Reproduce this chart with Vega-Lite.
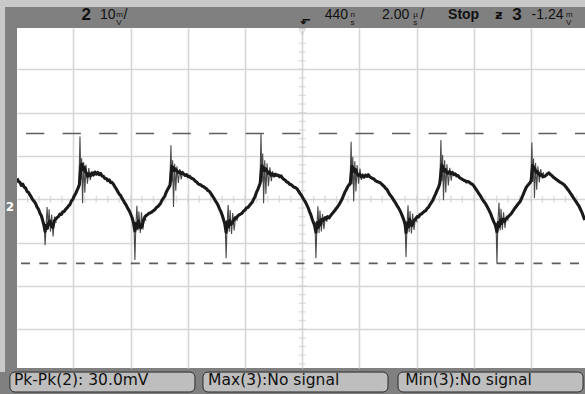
{
  "$schema": "https://vega.github.io/schema/vega-lite/v6.json",
  "width": 568,
  "height": 340,
  "autosize": "none",
  "padding": {"left": 17, "top": 28, "right": 0, "bottom": 26},
  "background": "#808080",
  "config": {"view": {"fill": "#ffffff", "stroke": null}},
  "datasets": {
    "trace": [
      {"t":-9.97,"v":4.8},{"t":-9.92,"v":4.1},{"t":-9.87,"v":3.9},{"t":-9.82,"v":3.2},{"t":-9.77,"v":3.5},{"t":-9.72,"v":2.8},{"t":-9.67,"v":2.6},{"t":-9.62,"v":1.8},{"t":-9.57,"v":1.6},{"t":-9.52,"v":1.0},{"t":-9.47,"v":0.5},{"t":-9.42,"v":-0.1},{"t":-9.37,"v":-0.5},{"t":-9.32,"v":-1.0},{"t":-9.27,"v":-1.8},{"t":-9.22,"v":-2.3},{"t":-9.17,"v":-3.2},{"t":-9.12,"v":-3.8},{"t":-9.07,"v":-5.0},{"t":-9.03,"v":-6.0},{"t":-8.99,"v":-7.4},
      {"t":-8.95,"v":-6.0},{"t":-8.91,"v":-6.7},{"t":-8.87,"v":-5.5},{"t":-8.82,"v":-5.0},{"t":-8.77,"v":-6.1},{"t":-8.72,"v":-6.5},{"t":-8.67,"v":-5.0},{"t":-8.62,"v":-4.6},{"t":-8.57,"v":-4.2},{"t":-8.52,"v":-4.0},{"t":-8.47,"v":-3.4},{"t":-8.42,"v":-3.5},{"t":-8.37,"v":-2.9},{"t":-8.32,"v":-2.8},{"t":-8.27,"v":-2.3},{"t":-8.22,"v":-2.0},{"t":-8.17,"v":-1.5},{"t":-8.12,"v":-1.2},{"t":-8.07,"v":-0.4},{"t":-8.02,"v":0.0},{"t":-7.97,"v":0.8},{"t":-7.92,"v":1.3},{"t":-7.87,"v":2.1},{"t":-7.83,"v":2.7},{"t":-7.79,"v":3.4},{"t":-7.74,"v":7.9},{"t":-7.70,"v":8.1},{"t":-7.66,"v":6.8},{"t":-7.62,"v":7.4},{"t":-7.58,"v":6.4},{"t":-7.54,"v":6.0},{"t":-7.50,"v":5.3},{"t":-7.45,"v":5.9},{"t":-7.40,"v":5.4},{"t":-7.35,"v":6.1},{"t":-7.30,"v":5.6},{"t":-7.25,"v":6.3},{"t":-7.20,"v":5.8},{"t":-7.15,"v":6.2},{"t":-7.10,"v":5.7},{"t":-7.05,"v":6.0},{"t":-7.00,"v":5.4},{"t":-6.95,"v":5.3},{"t":-6.90,"v":4.8},{"t":-6.85,"v":4.8},{"t":-6.80,"v":4.3},{"t":-6.75,"v":4.5},{"t":-6.70,"v":3.9},{"t":-6.65,"v":3.9},{"t":-6.60,"v":3.5},{"t":-6.55,"v":2.9},{"t":-6.50,"v":2.4},{"t":-6.45,"v":1.8},{"t":-6.40,"v":1.2},{"t":-6.35,"v":0.9},{"t":-6.30,"v":0.2},{"t":-6.25,"v":-0.3},{"t":-6.20,"v":-0.9},{"t":-6.15,"v":-1.4},{"t":-6.10,"v":-2.1},{"t":-6.05,"v":-2.6},{"t":-6.00,"v":-3.4},{"t":-5.95,"v":-4.2},{"t":-5.90,"v":-5.4},{"t":-5.85,"v":-7.3},
      {"t":-5.81,"v":-5.6},{"t":-5.77,"v":-6.6},{"t":-5.73,"v":-5.0},{"t":-5.69,"v":-6.0},{"t":-5.65,"v":-6.6},{"t":-5.60,"v":-6.2},{"t":-5.55,"v":-4.8},{"t":-5.50,"v":-4.1},{"t":-5.45,"v":-3.7},{"t":-5.40,"v":-3.5},{"t":-5.35,"v":-3.2},{"t":-5.30,"v":-3.1},{"t":-5.25,"v":-2.9},{"t":-5.20,"v":-2.6},{"t":-5.15,"v":-2.4},{"t":-5.10,"v":-1.9},{"t":-5.05,"v":-1.7},{"t":-5.00,"v":-1.3},{"t":-4.95,"v":-0.9},{"t":-4.90,"v":-0.2},{"t":-4.85,"v":0.3},{"t":-4.80,"v":0.8},{"t":-4.75,"v":1.7},{"t":-4.70,"v":2.3},{"t":-4.66,"v":2.8},{"t":-4.62,"v":3.3},{"t":-4.56,"v":7.6},{"t":-4.52,"v":7.4},{"t":-4.48,"v":6.6},{"t":-4.44,"v":7.0},{"t":-4.39,"v":6.6},{"t":-4.34,"v":6.2},{"t":-4.29,"v":6.4},{"t":-4.24,"v":5.9},{"t":-4.19,"v":6.2},{"t":-4.14,"v":5.8},{"t":-4.09,"v":5.5},{"t":-4.04,"v":5.7},{"t":-3.99,"v":5.2},{"t":-3.94,"v":5.3},{"t":-3.89,"v":4.9},{"t":-3.84,"v":4.8},{"t":-3.79,"v":4.6},{"t":-3.74,"v":4.2},{"t":-3.69,"v":4.0},{"t":-3.64,"v":3.6},{"t":-3.59,"v":3.4},{"t":-3.54,"v":3.3},{"t":-3.49,"v":3.0},{"t":-3.44,"v":2.9},{"t":-3.39,"v":2.6},{"t":-3.34,"v":2.4},{"t":-3.29,"v":2.0},{"t":-3.24,"v":1.8},{"t":-3.19,"v":1.3},{"t":-3.14,"v":0.8},{"t":-3.09,"v":0.3},{"t":-3.04,"v":-0.3},{"t":-2.99,"v":-0.8},{"t":-2.94,"v":-1.4},{"t":-2.89,"v":-2.2},{"t":-2.84,"v":-2.9},{"t":-2.79,"v":-3.8},{"t":-2.75,"v":-4.7},{"t":-2.71,"v":-5.6},{"t":-2.66,"v":-7.6},
      {"t":-2.62,"v":-5.2},{"t":-2.58,"v":-6.4},{"t":-2.54,"v":-4.9},{"t":-2.50,"v":-5.8},{"t":-2.45,"v":-5.5},{"t":-2.40,"v":-4.9},{"t":-2.35,"v":-4.3},{"t":-2.30,"v":-4.4},{"t":-2.25,"v":-3.8},{"t":-2.20,"v":-3.6},{"t":-2.15,"v":-3.4},{"t":-2.10,"v":-3.2},{"t":-2.05,"v":-2.7},{"t":-2.00,"v":-2.5},{"t":-1.95,"v":-2.0},{"t":-1.90,"v":-1.9},{"t":-1.85,"v":-1.5},{"t":-1.80,"v":-1.1},{"t":-1.75,"v":-0.7},{"t":-1.70,"v":0.0},{"t":-1.65,"v":0.6},{"t":-1.60,"v":1.6},{"t":-1.55,"v":2.3},{"t":-1.51,"v":3.0},{"t":-1.47,"v":3.7},{"t":-1.41,"v":7.8},{"t":-1.37,"v":7.3},{"t":-1.33,"v":6.6},{"t":-1.29,"v":7.1},{"t":-1.24,"v":6.7},{"t":-1.19,"v":6.0},{"t":-1.14,"v":6.3},{"t":-1.09,"v":5.6},{"t":-1.04,"v":5.9},{"t":-0.99,"v":5.4},{"t":-0.94,"v":5.8},{"t":-0.89,"v":5.5},{"t":-0.84,"v":5.6},{"t":-0.79,"v":5.2},{"t":-0.74,"v":5.4},{"t":-0.69,"v":4.9},{"t":-0.64,"v":4.6},{"t":-0.59,"v":4.4},{"t":-0.54,"v":4.0},{"t":-0.49,"v":3.9},{"t":-0.44,"v":3.5},{"t":-0.39,"v":3.4},{"t":-0.34,"v":3.1},{"t":-0.29,"v":2.8},{"t":-0.24,"v":2.7},{"t":-0.19,"v":2.5},{"t":-0.14,"v":2.0},{"t":-0.09,"v":1.5},{"t":-0.04,"v":1.0},{"t":0.01,"v":0.5},{"t":0.06,"v":-0.1},{"t":0.11,"v":-0.6},{"t":0.16,"v":-1.3},{"t":0.21,"v":-2.0},{"t":0.26,"v":-2.9},{"t":0.31,"v":-3.7},{"t":0.35,"v":-4.6},{"t":0.39,"v":-5.3},{"t":0.43,"v":-6.0},{"t":0.48,"v":-7.6},
      {"t":0.52,"v":-5.4},{"t":0.56,"v":-6.5},{"t":0.60,"v":-5.0},{"t":0.64,"v":-5.9},{"t":0.69,"v":-4.6},{"t":0.74,"v":-4.9},{"t":0.79,"v":-4.3},{"t":0.84,"v":-4.6},{"t":0.89,"v":-4.0},{"t":0.94,"v":-4.3},{"t":0.99,"v":-3.8},{"t":1.04,"v":-3.4},{"t":1.09,"v":-3.0},{"t":1.14,"v":-2.6},{"t":1.19,"v":-2.1},{"t":1.24,"v":-1.7},{"t":1.29,"v":-1.2},{"t":1.34,"v":-0.6},{"t":1.39,"v":0.0},{"t":1.44,"v":0.8},{"t":1.49,"v":1.6},{"t":1.54,"v":2.2},{"t":1.59,"v":2.9},{"t":1.64,"v":3.4},{"t":1.68,"v":3.6},{"t":1.74,"v":7.6},{"t":1.78,"v":7.3},{"t":1.82,"v":6.4},{"t":1.86,"v":6.9},{"t":1.91,"v":6.0},{"t":1.96,"v":5.5},{"t":2.01,"v":5.8},{"t":2.06,"v":5.2},{"t":2.11,"v":5.5},{"t":2.16,"v":5.1},{"t":2.21,"v":5.6},{"t":2.26,"v":5.3},{"t":2.31,"v":5.7},{"t":2.36,"v":5.2},{"t":2.41,"v":5.0},{"t":2.46,"v":4.8},{"t":2.51,"v":4.7},{"t":2.56,"v":4.3},{"t":2.61,"v":4.1},{"t":2.66,"v":4.0},{"t":2.71,"v":3.9},{"t":2.76,"v":3.6},{"t":2.81,"v":3.3},{"t":2.86,"v":3.0},{"t":2.91,"v":2.6},{"t":2.96,"v":2.3},{"t":3.01,"v":1.7},{"t":3.06,"v":1.1},{"t":3.11,"v":0.7},{"t":3.16,"v":0.2},{"t":3.21,"v":-0.3},{"t":3.26,"v":-0.8},{"t":3.31,"v":-1.4},{"t":3.36,"v":-1.9},{"t":3.41,"v":-2.5},{"t":3.46,"v":-3.2},{"t":3.51,"v":-4.0},{"t":3.56,"v":-4.9},{"t":3.60,"v":-5.9},{"t":3.63,"v":-7.7},
      {"t":3.67,"v":-5.5},{"t":3.71,"v":-6.4},{"t":3.75,"v":-4.6},{"t":3.79,"v":-5.2},{"t":3.83,"v":-6.1},{"t":3.87,"v":-5.5},{"t":3.92,"v":-4.8},{"t":3.97,"v":-4.5},{"t":4.02,"v":-4.0},{"t":4.07,"v":-4.1},{"t":4.12,"v":-3.5},{"t":4.17,"v":-3.4},{"t":4.22,"v":-3.1},{"t":4.27,"v":-2.8},{"t":4.32,"v":-2.6},{"t":4.37,"v":-2.1},{"t":4.42,"v":-1.8},{"t":4.47,"v":-1.2},{"t":4.52,"v":-0.7},{"t":4.57,"v":-0.2},{"t":4.62,"v":0.6},{"t":4.67,"v":1.3},{"t":4.72,"v":2.1},{"t":4.77,"v":2.8},{"t":4.81,"v":3.7},{"t":4.88,"v":7.9},{"t":4.92,"v":7.4},{"t":4.96,"v":6.5},{"t":5.00,"v":6.9},{"t":5.05,"v":6.2},{"t":5.10,"v":6.0},{"t":5.15,"v":6.4},{"t":5.20,"v":5.9},{"t":5.25,"v":6.2},{"t":5.30,"v":5.7},{"t":5.35,"v":5.9},{"t":5.40,"v":5.4},{"t":5.45,"v":5.5},{"t":5.50,"v":5.0},{"t":5.55,"v":4.8},{"t":5.60,"v":4.6},{"t":5.65,"v":4.4},{"t":5.70,"v":4.3},{"t":5.75,"v":4.0},{"t":5.80,"v":4.1},{"t":5.85,"v":3.9},{"t":5.90,"v":3.6},{"t":5.95,"v":3.5},{"t":6.00,"v":3.1},{"t":6.05,"v":2.6},{"t":6.10,"v":2.1},{"t":6.15,"v":1.6},{"t":6.20,"v":1.1},{"t":6.25,"v":0.6},{"t":6.30,"v":0.0},{"t":6.35,"v":-0.5},{"t":6.40,"v":-0.9},{"t":6.45,"v":-1.5},{"t":6.50,"v":-2.1},{"t":6.55,"v":-2.8},{"t":6.60,"v":-3.5},{"t":6.65,"v":-4.4},{"t":6.70,"v":-5.2},{"t":6.75,"v":-5.9},{"t":6.81,"v":-7.5},
      {"t":6.85,"v":-5.4},{"t":6.89,"v":-6.3},{"t":6.93,"v":-4.8},{"t":6.97,"v":-5.6},{"t":7.02,"v":-4.6},{"t":7.07,"v":-5.1},{"t":7.12,"v":-4.5},{"t":7.17,"v":-4.3},{"t":7.22,"v":-3.9},{"t":7.27,"v":-3.6},{"t":7.32,"v":-3.2},{"t":7.37,"v":-2.7},{"t":7.42,"v":-2.2},{"t":7.47,"v":-1.8},{"t":7.52,"v":-1.3},{"t":7.57,"v":-0.9},{"t":7.62,"v":-0.5},{"t":7.67,"v":0.2},{"t":7.72,"v":1.0},{"t":7.77,"v":1.8},{"t":7.82,"v":2.6},{"t":7.87,"v":3.1},{"t":7.92,"v":3.5},{"t":7.97,"v":3.9},{"t":8.00,"v":4.2},{"t":8.06,"v":7.8},{"t":8.10,"v":7.3},{"t":8.14,"v":6.9},{"t":8.18,"v":6.2},{"t":8.23,"v":6.4},{"t":8.28,"v":5.8},{"t":8.33,"v":5.5},{"t":8.38,"v":5.7},{"t":8.43,"v":5.2},{"t":8.48,"v":5.3},{"t":8.53,"v":5.6},{"t":8.58,"v":5.9},{"t":8.63,"v":6.1},{"t":8.68,"v":5.7},{"t":8.73,"v":5.5},{"t":8.78,"v":5.1},{"t":8.83,"v":4.9},{"t":8.88,"v":4.6},{"t":8.93,"v":4.4},{"t":8.98,"v":4.1},{"t":9.03,"v":3.9},{"t":9.08,"v":3.7},{"t":9.13,"v":3.5},{"t":9.18,"v":3.2},{"t":9.23,"v":2.8},{"t":9.28,"v":2.3},{"t":9.33,"v":1.9},{"t":9.38,"v":1.4},{"t":9.43,"v":0.9},{"t":9.48,"v":0.4},{"t":9.53,"v":-0.1},{"t":9.58,"v":-0.6},{"t":9.63,"v":-1.1},{"t":9.68,"v":-1.6},{"t":9.73,"v":-2.3},{"t":9.78,"v":-3.0},{"t":9.83,"v":-3.9},{"t":9.88,"v":-4.8}
    ],
    "ring": [
      {"g":"r1","t":-9.02,"v":-6.0},{"g":"r1","t":-8.99,"v":-10.6},{"g":"r1","t":-8.96,"v":-7.0},{"g":"r1","t":-8.92,"v":-1.8},{"g":"r1","t":-8.88,"v":-6.5},{"g":"r1","t":-8.85,"v":-2.3},{"g":"r1","t":-8.80,"v":-7.5},{"g":"r1","t":-8.76,"v":-3.5},{"g":"r1","t":-8.71,"v":-8.6},{"g":"r1","t":-8.66,"v":-4.0},{"g":"r1","t":-8.60,"v":-5.5},
      {"g":"r2","t":-5.88,"v":-6.2},{"g":"r2","t":-5.85,"v":-14.0},{"g":"r2","t":-5.82,"v":-6.8},{"g":"r2","t":-5.78,"v":-1.5},{"g":"r2","t":-5.74,"v":-7.2},{"g":"r2","t":-5.71,"v":-2.8},{"g":"r2","t":-5.66,"v":-7.8},{"g":"r2","t":-5.62,"v":-3.0},{"g":"r2","t":-5.57,"v":-7.0},{"g":"r2","t":-5.52,"v":-3.8},{"g":"r2","t":-5.46,"v":-5.0},
      {"g":"r3","t":-2.69,"v":-6.3},{"g":"r3","t":-2.66,"v":-13.6},{"g":"r3","t":-2.63,"v":-6.5},{"g":"r3","t":-2.59,"v":-1.3},{"g":"r3","t":-2.55,"v":-7.5},{"g":"r3","t":-2.52,"v":-2.5},{"g":"r3","t":-2.47,"v":-8.0},{"g":"r3","t":-2.43,"v":-3.2},{"g":"r3","t":-2.38,"v":-7.2},{"g":"r3","t":-2.33,"v":-4.0},{"g":"r3","t":-2.27,"v":-5.0},
      {"g":"r4","t":0.45,"v":-6.1},{"g":"r4","t":0.48,"v":-13.6},{"g":"r4","t":0.51,"v":-7.0},{"g":"r4","t":0.55,"v":-1.6},{"g":"r4","t":0.59,"v":-7.8},{"g":"r4","t":0.62,"v":-2.6},{"g":"r4","t":0.67,"v":-7.4},{"g":"r4","t":0.71,"v":-3.4},{"g":"r4","t":0.76,"v":-6.9},{"g":"r4","t":0.81,"v":-3.9},{"g":"r4","t":0.87,"v":-5.2},
      {"g":"r5","t":3.60,"v":-6.0},{"g":"r5","t":3.63,"v":-13.3},{"g":"r5","t":3.66,"v":-6.8},{"g":"r5","t":3.70,"v":-1.4},{"g":"r5","t":3.74,"v":-7.6},{"g":"r5","t":3.77,"v":-2.7},{"g":"r5","t":3.82,"v":-7.9},{"g":"r5","t":3.86,"v":-3.3},{"g":"r5","t":3.91,"v":-7.1},{"g":"r5","t":3.96,"v":-4.1},{"g":"r5","t":4.02,"v":-5.3},
      {"g":"r6","t":6.78,"v":-6.2},{"g":"r6","t":6.81,"v":-14.8},{"g":"r6","t":6.84,"v":-5.5},{"g":"r6","t":6.88,"v":-0.8},{"g":"r6","t":6.92,"v":-7.2},{"g":"r6","t":6.95,"v":-2.2},{"g":"r6","t":7.00,"v":-7.0},{"g":"r6","t":7.04,"v":-3.0},{"g":"r6","t":7.09,"v":-6.6},{"g":"r6","t":7.14,"v":-3.8},{"g":"r6","t":7.20,"v":-5.0},
      {"g":"u1","t":-7.81,"v":2.8},{"g":"u1","t":-7.77,"v":14.5},{"g":"u1","t":-7.74,"v":4.5},{"g":"u1","t":-7.71,"v":9.5},{"g":"u1","t":-7.68,"v":-0.9},{"g":"u1","t":-7.64,"v":8.6},{"g":"u1","t":-7.60,"v":1.5},{"g":"u1","t":-7.56,"v":8.0},{"g":"u1","t":-7.51,"v":3.6},{"g":"u1","t":-7.46,"v":7.2},{"g":"u1","t":-7.41,"v":4.4},{"g":"u1","t":-7.36,"v":6.4},
      {"g":"u2","t":-4.63,"v":3.0},{"g":"u2","t":-4.59,"v":12.5},{"g":"u2","t":-4.56,"v":4.0},{"g":"u2","t":-4.53,"v":9.0},{"g":"u2","t":-4.50,"v":-1.8},{"g":"u2","t":-4.46,"v":8.2},{"g":"u2","t":-4.42,"v":2.0},{"g":"u2","t":-4.38,"v":7.6},{"g":"u2","t":-4.33,"v":3.8},{"g":"u2","t":-4.28,"v":7.0},{"g":"u2","t":-4.23,"v":4.6},{"g":"u2","t":-4.18,"v":6.2},
      {"g":"u3","t":-1.48,"v":3.2},{"g":"u3","t":-1.44,"v":15.1},{"g":"u3","t":-1.41,"v":4.0},{"g":"u3","t":-1.38,"v":10.6},{"g":"u3","t":-1.35,"v":-0.9},{"g":"u3","t":-1.31,"v":9.0},{"g":"u3","t":-1.27,"v":1.2},{"g":"u3","t":-1.23,"v":8.3},{"g":"u3","t":-1.18,"v":3.0},{"g":"u3","t":-1.13,"v":7.4},{"g":"u3","t":-1.08,"v":4.2},{"g":"u3","t":-1.03,"v":6.5},
      {"g":"u4","t":1.67,"v":3.0},{"g":"u4","t":1.71,"v":13.3},{"g":"u4","t":1.74,"v":3.5},{"g":"u4","t":1.77,"v":9.8},{"g":"u4","t":1.80,"v":-0.5},{"g":"u4","t":1.84,"v":8.8},{"g":"u4","t":1.88,"v":1.8},{"g":"u4","t":1.92,"v":7.9},{"g":"u4","t":1.97,"v":3.6},{"g":"u4","t":2.02,"v":7.1},{"g":"u4","t":2.07,"v":4.5},{"g":"u4","t":2.12,"v":6.0},
      {"g":"u5","t":4.81,"v":3.4},{"g":"u5","t":4.85,"v":13.7},{"g":"u5","t":4.88,"v":4.2},{"g":"u5","t":4.91,"v":10.2},{"g":"u5","t":4.94,"v":-0.2},{"g":"u5","t":4.98,"v":9.0},{"g":"u5","t":5.02,"v":1.6},{"g":"u5","t":5.06,"v":8.1},{"g":"u5","t":5.11,"v":3.2},{"g":"u5","t":5.16,"v":7.3},{"g":"u5","t":5.21,"v":4.3},{"g":"u5","t":5.26,"v":6.6},
      {"g":"u6","t":7.99,"v":3.6},{"g":"u6","t":8.03,"v":13.1},{"g":"u6","t":8.06,"v":4.0},{"g":"u6","t":8.09,"v":9.4},{"g":"u6","t":8.12,"v":0.3},{"g":"u6","t":8.16,"v":8.4},{"g":"u6","t":8.20,"v":2.2},{"g":"u6","t":8.24,"v":7.6},{"g":"u6","t":8.29,"v":3.9},{"g":"u6","t":8.34,"v":7.0},{"g":"u6","t":8.39,"v":4.8},{"g":"u6","t":8.44,"v":6.3}
    ],
    "levels": [
      {"name":"max","v":15.2,"t":-9.972,"t2":9.888},
      {"name":"min","v":-14.8,"t":-9.972,"t2":9.888}
    ],
    "vticks": [
      {"t":0,"v":-38},{"t":0,"v":-36},{"t":0,"v":-34},{"t":0,"v":-32},{"t":0,"v":-30},{"t":0,"v":-28},{"t":0,"v":-26},{"t":0,"v":-24},{"t":0,"v":-22},{"t":0,"v":-20},{"t":0,"v":-18},{"t":0,"v":-16},{"t":0,"v":-14},{"t":0,"v":-12},{"t":0,"v":-10},{"t":0,"v":-8},{"t":0,"v":-6},{"t":0,"v":-4},{"t":0,"v":-2},{"t":0,"v":0},{"t":0,"v":2},{"t":0,"v":4},{"t":0,"v":6},{"t":0,"v":8},{"t":0,"v":10},{"t":0,"v":12},{"t":0,"v":14},{"t":0,"v":16},{"t":0,"v":18},{"t":0,"v":20},{"t":0,"v":22},{"t":0,"v":24},{"t":0,"v":26},{"t":0,"v":28},{"t":0,"v":30},{"t":0,"v":32},{"t":0,"v":34},{"t":0,"v":36}
    ],
    "hticks": [
      {"t":-9.6,"v":0},{"t":-9.2,"v":0},{"t":-8.8,"v":0},{"t":-8.4,"v":0},{"t":-8.0,"v":0},{"t":-7.6,"v":0},{"t":-7.2,"v":0},{"t":-6.8,"v":0},{"t":-6.4,"v":0},{"t":-6.0,"v":0},{"t":-5.6,"v":0},{"t":-5.2,"v":0},{"t":-4.8,"v":0},{"t":-4.4,"v":0},{"t":-4.0,"v":0},{"t":-3.6,"v":0},{"t":-3.2,"v":0},{"t":-2.8,"v":0},{"t":-2.4,"v":0},{"t":-2.0,"v":0},{"t":-1.6,"v":0},{"t":-1.2,"v":0},{"t":-0.8,"v":0},{"t":-0.4,"v":0},{"t":0.4,"v":0},{"t":0.8,"v":0},{"t":1.2,"v":0},{"t":1.6,"v":0},{"t":2.0,"v":0},{"t":2.4,"v":0},{"t":2.8,"v":0},{"t":3.2,"v":0},{"t":3.6,"v":0},{"t":4.0,"v":0},{"t":4.4,"v":0},{"t":4.8,"v":0},{"t":5.2,"v":0},{"t":5.6,"v":0},{"t":6.0,"v":0},{"t":6.4,"v":0},{"t":6.8,"v":0},{"t":7.2,"v":0},{"t":7.6,"v":0},{"t":8.0,"v":0},{"t":8.4,"v":0},{"t":8.8,"v":0},{"t":9.2,"v":0},{"t":9.6,"v":0}
    ],
    "strips": [
      {"t":-10.57,"t2":9.888,"v":46.1,"v2":44.41},
      {"t":-10.57,"t2":-10.39,"v":44.41,"v2":-39.9}
    ],
    "boxes": [
      {"t":-10.22,"t2":-3.75,"v":-39.9,"v2":-44.5},
      {"t":-3.47,"t2":3.0,"v":-39.9,"v2":-44.5},
      {"t":3.35,"t2":9.82,"v":-39.9,"v2":-44.5}
    ],
    "hdr": [
      {"t":-7.07,"v":42.6,"s":"10"},
      {"t":-6.25,"v":42.6,"s":"/"},
      {"t":0.79,"v":42.6,"s":"440"},
      {"t":2.79,"v":42.6,"s":"2.00"},
      {"t":4.13,"v":42.6,"s":"/"},
      {"t":8.02,"v":42.6,"s":"-1.24"}
    ],
    "hdrbold": [
      {"t":5.10,"v":42.6,"s":"Stop"}
    ],
    "hdrbig": [
      {"t":-7.72,"v":42.6,"s":"2"},
      {"t":7.34,"v":42.6,"s":"3"}
    ],
    "units": [
      {"t":-6.50,"v":42.6,"s":"m\nV"},
      {"t":1.69,"v":42.6,"s":"n\ns"},
      {"t":3.88,"v":42.6,"s":"µ\ns"},
      {"t":9.22,"v":42.6,"s":"m\nV"}
    ],
    "glyphs": [
      {"t":-0.08,"v":41.4,"s":"⬐"},
      {"t":6.74,"v":42.6,"s":"ƶ"}
    ],
    "ftr": [
      {"t":-10.08,"v":-41.8,"s":"Pk-Pk(2): 30.0mV"},
      {"t":-3.29,"v":-41.8,"s":"Max(3):No signal"},
      {"t":3.60,"v":-41.8,"s":"Min(3):No signal"}
    ],
    "gnd": [
      {"t":-10.22,"v":-1.8,"s":"2"}
    ],
    "trig": [
      {"t":0,"v":38.9,"s":"▽"}
    ]
  },
  "encoding": {
    "x": {"field": "t", "type": "quantitative", "scale": {"domain": [-9.972, 9.888], "nice": false, "zero": false},
          "axis": {"values": [-8,-6,-4,-2,0,2,4,6,8], "grid": true, "gridColor": "#d6d6d6", "gridWidth": 1.6, "labels": false, "ticks": false, "domain": false, "title": null}},
    "y": {"field": "v", "type": "quantitative", "scale": {"domain": [-38.96, 39.56], "nice": false, "zero": false},
          "axis": {"values": [-30,-20,-10,0,10,20,30], "grid": true, "gridColor": "#d6d6d6", "gridWidth": 1.6, "labels": false, "ticks": false, "domain": false, "title": null}}
  },
  "layer": [
    {"data": {"name": "vticks"}, "mark": {"type": "tick", "orient": "horizontal", "size": 7, "thickness": 1.3, "color": "#cfcfcf"}},
    {"data": {"name": "hticks"}, "mark": {"type": "tick", "orient": "vertical", "size": 7, "thickness": 1.3, "color": "#cfcfcf"}},
    {"data": {"name": "levels"}, "transform": [{"filter": "datum.name == 'max'"}],
     "mark": {"type": "rule", "color": "#5e5e5e", "strokeWidth": 1.6, "strokeDash": [18.3, 18.3], "strokeDashOffset": 27.6},
     "encoding": {"x2": {"field": "t2"}}},
    {"data": {"name": "levels"}, "transform": [{"filter": "datum.name == 'min'"}],
     "mark": {"type": "rule", "color": "#5e5e5e", "strokeWidth": 1.6, "strokeDash": [9, 9.3], "strokeDashOffset": 14.3},
     "encoding": {"x2": {"field": "t2"}}},
    {"data": {"name": "ring"}, "mark": {"type": "line", "color": "#4a4a4a", "strokeWidth": 1.1, "clip": true},
     "encoding": {"detail": {"field": "g"}, "order": {"field": "t", "type": "quantitative"}}},
    {"data": {"name": "trace"}, "mark": {"type": "line", "color": "#1a1a1a", "strokeWidth": 3.1, "strokeJoin": "round", "clip": true},
     "encoding": {"order": {"field": "t", "type": "quantitative"}}},
    {"data": {"name": "trig"}, "mark": {"type": "text", "color": "#b0b0b0", "fontSize": 9, "font": "DejaVu Sans", "baseline": "middle", "align": "center"},
     "encoding": {"text": {"field": "s"}}},
    {"data": {"name": "strips"}, "mark": {"type": "rect", "color": "#c9c9c9"},
     "encoding": {"x2": {"field": "t2"}, "y2": {"field": "v2"}}},
    {"data": {"name": "boxes"}, "mark": {"type": "rect", "fill": "#bebebe", "stroke": "#2a2a2a", "strokeWidth": 1, "cornerRadius": 5},
     "encoding": {"x2": {"field": "t2"}, "y2": {"field": "v2"}}},
    {"data": {"name": "hdr"}, "mark": {"type": "text", "color": "#111111", "fontSize": 14, "font": "Liberation Sans", "align": "left", "baseline": "middle"},
     "encoding": {"text": {"field": "s"}}},
    {"data": {"name": "hdrbold"}, "mark": {"type": "text", "color": "#111111", "fontSize": 14, "fontWeight": "bold", "font": "Liberation Sans", "align": "left", "baseline": "middle"},
     "encoding": {"text": {"field": "s"}}},
    {"data": {"name": "hdrbig"}, "mark": {"type": "text", "color": "#111111", "fontSize": 17, "fontWeight": "bold", "font": "Liberation Sans", "align": "left", "baseline": "middle"},
     "encoding": {"text": {"field": "s"}}},
    {"data": {"name": "units"}, "mark": {"type": "text", "color": "#111111", "fontSize": 8, "lineHeight": 8, "lineBreak": "\n", "font": "Liberation Sans", "align": "left", "baseline": "middle"},
     "encoding": {"text": {"field": "s"}}},
    {"data": {"name": "glyphs"}, "mark": {"type": "text", "color": "#111111", "fontSize": 13, "fontWeight": "bold", "font": "DejaVu Sans", "align": "left", "baseline": "middle"},
     "encoding": {"text": {"field": "s"}}},
    {"data": {"name": "ftr"}, "mark": {"type": "text", "color": "#111111", "fontSize": 15.5, "font": "DejaVu Sans", "align": "left", "baseline": "middle"},
     "encoding": {"text": {"field": "s"}}},
    {"data": {"name": "gnd"}, "mark": {"type": "text", "color": "#ffffff", "fontSize": 12, "fontWeight": "bold", "font": "DejaVu Sans", "align": "center", "baseline": "middle"},
     "encoding": {"text": {"field": "s"}}}
  ]
}
